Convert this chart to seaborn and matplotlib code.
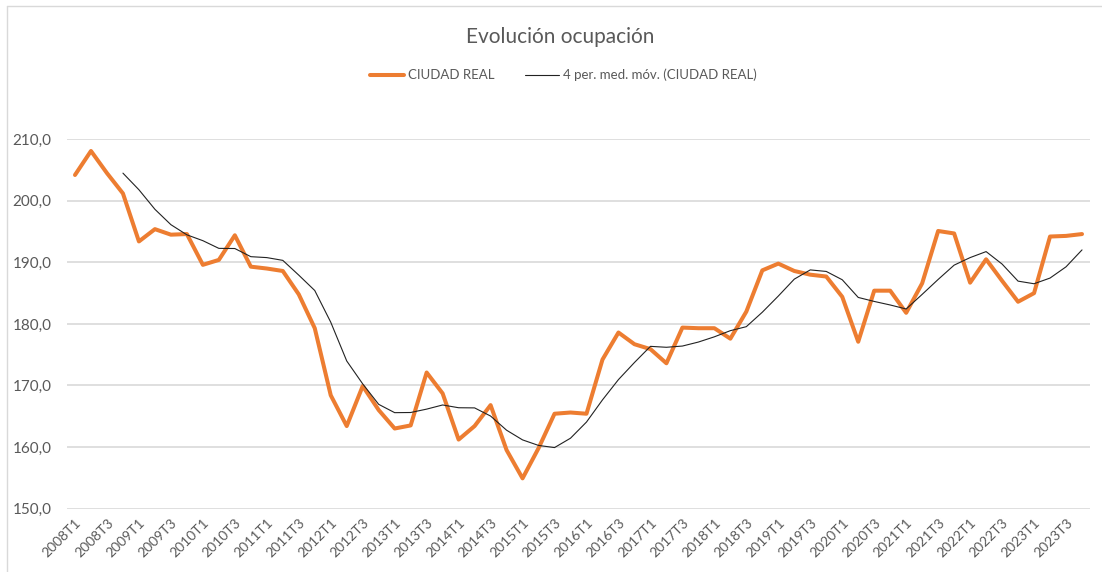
import numpy as np
import pandas as pd
import seaborn as sns
import matplotlib.pyplot as plt
from matplotlib.ticker import FuncFormatter
from matplotlib.lines import Line2D

# datos trimestrales 2008T1 - 2023T4
years = list(range(2008, 2024))
quarters = ['T1', 'T2', 'T3', 'T4']
periodos = [f'{y}{q}' for y in years for q in quarters]

ciudad_real = [
    204.2, 208.1, 204.5, 201.2,
    193.4, 195.4, 194.5, 194.6,
    189.6, 190.4, 194.4, 189.3,
    189.0, 188.6, 184.8, 179.3,
    168.4, 163.4, 169.9, 166.0,
    163.0, 163.5, 172.1, 168.7,
    161.2, 163.4, 166.8, 159.5,
    154.9, 159.8, 165.4, 165.6,
    165.4, 174.2, 178.6, 176.7,
    175.9, 173.6, 179.4, 179.3,
    179.3, 177.6, 182.0, 188.7,
    189.8, 188.6, 188.0, 187.7,
    184.4, 177.1, 185.4, 185.4,
    181.8, 186.6, 195.1, 194.7,
    186.7, 190.5, 187.0, 183.6,
    185.0, 194.2, 194.3, 194.6,
]

df = pd.DataFrame({'pos': np.arange(len(periodos)), 'periodo': periodos,
                   'valor': ciudad_real})
# media móvil de 4 periodos (línea de tendencia de Excel)
df['media'] = df['valor'].rolling(4).mean()

sns.set_theme(style='white')
plt.rcParams['font.family'] = ['Lato', 'DejaVu Sans']

fig = plt.figure(figsize=(11.02, 5.72), dpi=100)
ax = fig.add_axes([67 / 1102, 1 - 508.5 / 572, (1090 - 67) / 1102, (508.5 - 139.3) / 572])

naranja = '#ED7D31'
gris_txt = '#595959'

sns.lineplot(data=df, x='pos', y='valor', color=naranja, linewidth=2.9, ax=ax)
sns.lineplot(data=df.dropna(), x='pos', y='media', color='#222222', linewidth=0.8, ax=ax)

ax.set_xlim(-0.5, len(periodos) - 0.5)
ax.set_ylim(150, 210)
ax.set_yticks(np.arange(150, 211, 10))
ax.yaxis.set_major_formatter(FuncFormatter(lambda v, p: f'{v:.1f}'.replace('.', ',')))
ax.grid(axis='y', color='#d9d9d9', linewidth=1.2)
ax.set_axisbelow(True)
for s in ax.spines.values():
    s.set_visible(False)

ax.set_xticks(df['pos'][::2])
ax.set_xticklabels(df['periodo'][::2], rotation=45, ha='right', rotation_mode='anchor',
                   fontsize=10, color=gris_txt)
ax.tick_params(axis='x', length=0, pad=6)
ax.tick_params(axis='y', length=0, pad=11, labelsize=11, labelcolor=gris_txt)
ax.set_xlabel('')
ax.set_ylabel('')

fig.text(0.508, 1 - 37 / 572, 'Evolución ocupación', ha='center', va='center',
         fontsize=15, color=gris_txt)

handles = [Line2D([], [], color=naranja, linewidth=2.9),
           Line2D([], [], color='#222222', linewidth=0.8)]
fig.legend(handles, ['CIUDAD REAL', '4 per. med. móv. (CIUDAD REAL)'],
           loc='center', bbox_to_anchor=(0.511, 1 - 75 / 572), ncol=2, frameon=False,
           fontsize=9.5, labelcolor=gris_txt, handlelength=2.6, handletextpad=0.3,
           columnspacing=2.3)

# borde del área del gráfico
fig.add_artist(Line2D([7 / 1102, 7 / 1102], [0, 1 - 6 / 572], color='#d9d9d9',
                      linewidth=1, transform=fig.transFigure))
fig.add_artist(Line2D([7 / 1102, 1], [1 - 6 / 572, 1 - 6 / 572], color='#d9d9d9',
                      linewidth=1, transform=fig.transFigure))

fig.savefig('out.png', dpi=100)
